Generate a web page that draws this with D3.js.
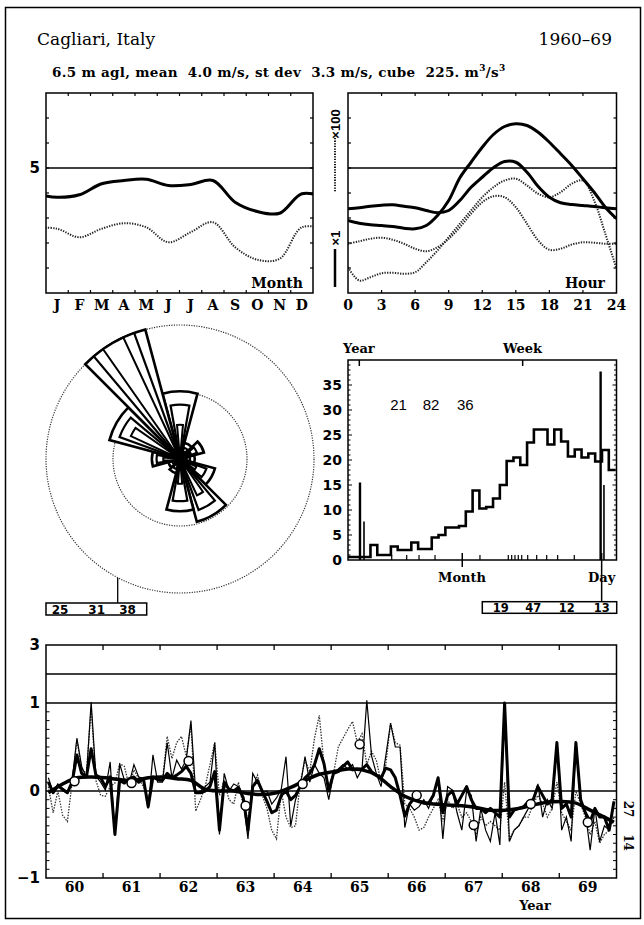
<!DOCTYPE html>
<html><head><meta charset="utf-8">
<script src="https://cdn.jsdelivr.net/npm/d3@7"></script>
<style>body{margin:0;background:#fff}svg{display:block}</style>
</head><body>
<svg id="c" width="644" height="925"></svg>
<script>
// ---------------- DATA ----------------
const titleText = "Cagliari, Italy";
const periodText = "1960–69";
const monthLabels = ["J","F","M","A","M","J","J","A","S","O","N","D"];
const monthMean = [3.83,3.93,4.37,4.50,4.55,4.30,4.34,4.50,3.63,3.26,3.19,3.97];
const monthStd  = [2.57,2.23,2.57,2.79,2.63,2.03,2.43,2.83,1.83,1.33,1.37,2.63];

const hourTicks = [0,3,6,9,12,15,18,21,24];
const hours = d3.range(0,25);
const hourSolidA = [2.90,2.79,2.73,2.70,2.66,2.59,2.57,2.70,3.10,3.70,4.61,5.23,5.83,6.34,6.66,6.77,6.70,6.43,6.03,5.57,5.10,4.57,4.03,3.43,2.97];
const hourSolidB = [3.37,3.41,3.47,3.51,3.53,3.47,3.41,3.30,3.21,3.30,3.70,4.23,4.63,5.01,5.26,5.23,4.83,4.26,3.83,3.61,3.54,3.50,3.46,3.41,3.37];
const hourDotA   = [1.97,2.07,2.17,2.21,2.13,1.97,1.77,1.67,1.83,2.17,2.63,3.17,3.63,3.87,3.83,3.43,2.77,2.10,1.73,1.77,1.94,2.03,2.01,1.97,1.97];
const hourDotB   = [1.03,0.50,0.63,0.79,0.81,0.77,0.83,1.23,1.70,2.23,2.77,3.30,3.83,4.23,4.50,4.57,4.30,3.97,3.83,4.03,4.37,4.50,3.70,2.37,0.97];

const roseDirs   = [0,30,60,90,120,150,180,210,240,270,300,330];
const roseWide   = [10.1,2.5,3.7,2.2,5.4,9.7,7.8,2.2,1.8,4.2,10.9,20];
const roseMid    = [8.1,1.8,2.7,1.5,4.2,8.1,6.3,1.6,1.2,3.5,9.6,20];
const roseNarrow = [5.1,1.2,1.8,1.0,2.7,6.0,3.7,1.0,0.8,2.5,8.1,20];
const roseRings  = [10,20];
const roseBox    = ["25","31","38"];

const specBins = [0.6,0.6,0.6,3.0,1.0,1.0,2.7,2.0,2.0,3.5,2.2,2.2,4.5,5.0,6.5,6.5,6.8,9.7,13.9,10.3,10.6,12.3,15.0,19.8,20.5,19.0,23.5,26.1,26.1,23.1,26.1,23.7,20.7,22.1,20.5,21.3,19.7,22.0,18.0];
const specSpikePos = [1.46,2.05,36.8,37.29];
const specSpikeVal = [15.5,7.7,37.7,15.0];
const specTicks = [6.12,8.32,10.13,12.48,19.08,23.24,23.74,24.22,24.71,25.21,26.09,27.41,28.88,30.49,32.93];
const specYTicks = [0,5,10,15,20,25,30,35];
const specNumbers = ["21","82","36"];
const specBox = ["19","47","12","13"];

const years = ["60","61","62","63","64","65","66","67","68","69"];
const seriesThin = [
 0.15,-0.02,0.08,0.00,-0.02,0.12,0.60,0.28,0.15,1.03,0.17,0.10,
 0.01,0.33,-0.50,0.31,0.12,0.09,0.30,0.16,0.14,-0.20,0.41,0.10,
 0.10,0.55,0.15,0.35,0.25,0.35,0.80,-0.02,0.00,0.05,0.10,0.55,
 -0.50,0.20,0.00,0.08,0.05,-0.10,-0.55,0.20,0.10,-0.02,0.00,-0.15,
 -0.08,0.02,0.39,-0.40,-0.10,0.05,0.39,0.10,0.30,0.20,0.15,-0.10,
 0.20,0.25,0.30,0.25,0.30,0.15,0.25,1.09,0.40,0.20,0.05,0.40,
 0.77,0.50,0.50,-0.42,-0.15,-0.22,-0.18,-0.10,-0.20,-0.05,0.15,-0.55,
 0.05,0.01,-0.25,-0.45,0.00,-0.05,-0.58,-0.20,-0.45,-0.58,-0.25,-0.62,
 1.02,-0.58,-0.45,-0.40,-0.30,-0.20,-0.10,0.08,-0.30,-0.10,-0.20,0.55,
 -0.45,-0.30,-0.58,0.55,-0.15,-0.25,-0.68,-0.20,-0.58,-0.40,-0.45,-0.12];
const seriesDotted = [
 0.05,-0.25,0.00,-0.28,-0.35,0.10,0.58,0.25,0.20,0.95,0.12,-0.05,
 -0.06,0.05,0.09,0.31,0.28,0.05,0.24,0.14,0.05,-0.10,0.16,0.11,
 0.12,0.62,0.37,0.55,0.62,0.40,0.75,-0.23,-0.10,0.05,0.30,0.55,
 -0.05,0.12,-0.10,-0.15,0.10,-0.17,-0.33,0.05,0.18,-0.05,-0.20,-0.45,
 -0.55,0.00,-0.30,-0.42,-0.40,0.10,0.35,0.22,0.60,0.86,0.30,0.05,
 0.20,0.50,0.60,0.70,0.79,0.55,0.65,0.30,0.45,0.35,0.10,0.30,
 0.77,0.55,0.52,-0.15,-0.20,-0.30,-0.45,-0.42,-0.30,-0.20,-0.10,-0.35,
 -0.10,-0.20,-0.15,-0.30,-0.25,-0.35,-0.50,-0.30,-0.40,-0.35,-0.40,-0.45,
 0.10,-0.55,-0.45,-0.40,-0.30,-0.30,-0.15,-0.05,-0.15,-0.30,-0.20,0.10,
 -0.25,-0.35,-0.45,0.00,-0.15,-0.30,-0.50,-0.35,-0.60,-0.50,-0.45,-0.30];
const seriesThick = [
 0.10,-0.02,0.06,0.02,-0.02,0.10,0.41,0.20,0.16,0.48,0.18,0.15,
 0.05,0.16,-0.50,0.12,0.09,0.14,0.16,0.10,0.14,-0.18,0.16,0.13,
 0.12,0.20,0.15,0.18,0.22,0.28,0.20,-0.02,-0.02,0.00,0.05,0.22,
 -0.45,0.10,0.02,0.00,0.04,-0.08,-0.45,0.05,0.12,0.00,-0.12,-0.25,
 -0.22,-0.05,0.00,-0.10,-0.05,0.05,0.15,0.20,0.30,0.48,0.31,0.00,
 0.20,0.22,0.28,0.33,0.24,0.25,0.25,0.30,0.22,0.18,0.15,0.26,
 0.24,0.15,-0.05,-0.29,-0.15,-0.08,-0.12,-0.14,-0.14,-0.05,0.15,-0.25,
 -0.05,0.00,-0.15,-0.05,0.05,-0.10,-0.20,-0.20,-0.25,-0.20,-0.25,-0.30,
 1.00,-0.30,-0.22,-0.20,-0.18,-0.12,-0.10,0.05,-0.05,-0.15,-0.10,0.55,
 -0.20,-0.15,-0.30,0.55,-0.10,-0.25,-0.35,-0.20,-0.30,-0.30,-0.45,-0.12];
const trendMonths = [0,3,6,9,12,15,18,21,24,27,30,33,36,39,42,45,48,51,54,57,60,63,66,69,72,75,78,81,84,87,90,93,96,99,102,105,108,111,114,117,119];
const trendValues = [-0.02,0.08,0.15,0.16,0.15,0.13,0.12,0.15,0.16,0.14,0.12,0.02,0.00,0.00,-0.03,-0.04,-0.02,0.04,0.12,0.19,0.22,0.25,0.24,0.18,0.05,-0.06,-0.12,-0.15,-0.16,-0.17,-0.19,-0.22,-0.22,-0.20,-0.16,-0.13,-0.12,-0.14,-0.22,-0.30,-0.36];
const annualValues = [0.11,0.09,0.34,-0.17,0.08,0.53,-0.05,-0.39,-0.15,-0.36];
const bottomYLabels = [{v:3,t:"3"},{v:1,t:"1"},{v:0,t:"0"},{v:-1,t:"\u22121"}];
const sideLabels = ["27","14"];

// ---------------- DRAW ----------------
const svg = d3.select("#c");
const SERIF = "DejaVu Serif", SANS = "Liberation Sans";

function rect(x0,y0,x1,y1,sw){
  svg.append("rect").attr("x",x0).attr("y",y0).attr("width",x1-x0).attr("height",y1-y0)
    .attr("fill","none").attr("stroke","#000").attr("stroke-width",sw||1.5);
}
function line(g,x1,y1,x2,y2,sw,dash){
  const l=g.append("line").attr("x1",x1).attr("y1",y1).attr("x2",x2).attr("y2",y2)
    .attr("stroke","#000").attr("stroke-width",sw||1);
  if(dash) l.attr("stroke-dasharray",dash);
  return l;
}
function txt(x,y,t,o){
  o=o||{};
  return svg.append("text").attr("x",x).attr("y",y).text(t)
    .attr("font-family",o.ff||SERIF).attr("font-weight",o.fw||"bold")
    .attr("font-size",o.fs||14).attr("text-anchor",o.ta||"start").attr("fill","#000");
}
function clip(id,x0,y0,x1,y1){
  svg.append("clipPath").attr("id",id).append("rect").attr("x",x0).attr("y",y0).attr("width",x1-x0).attr("height",y1-y0);
}

// outer frame
rect(5.5,7.5,640.5,918.5,1.5);

// header
txt(37,45,titleText,{fw:"normal",fs:17});
txt(612,45,periodText,{fw:"normal",fs:17,ta:"end"});
const sub = svg.append("text").attr("x",52).attr("y",77).attr("font-family",SERIF)
  .attr("font-weight","bold").attr("font-size",13.5).attr("letter-spacing",0.3).style("white-space","pre");
sub.append("tspan").text("6.5 m agl, mean  4.0 m/s, st dev  3.3 m/s, cube  225. m");
sub.append("tspan").attr("dy",-6).attr("font-size",9).text("3");
sub.append("tspan").attr("dy",6).attr("font-size",13.5).text("/s");
sub.append("tspan").attr("dy",-6).attr("font-size",9).text("3");

// ---- top panels ----
const yV = d3.scaleLinear().domain([0,8]).range([293,93]);
const xM = d3.scaleLinear().domain([0,12]).range([46,313]);
const xH = d3.scaleLinear().domain([0,24]).range([348,616.5]);
const curve = d3.line().curve(d3.curveCatmullRom.alpha(0.5));

clip("cpM",46,93,313,293);
clip("cpH",348,93,616.5,293);
const gM = svg.append("g");
const gH = svg.append("g");

// month panel
line(gM,46,yV(5),313,yV(5),1.5);
d3.range(1,8).forEach(v=>{ line(gM,46,yV(v),49,yV(v),1.2); line(gM,310,yV(v),313,yV(v),1.2); });
d3.range(1,12).forEach(m=>{ line(gM,xM(m),93,xM(m),96,1.2); line(gM,xM(m),290,xM(m),293,1.2); });
function cyc(arr){ return d3.range(-1,13).map(i=>[xM(i+0.5), yV(arr[(i+12)%12])]); }
gM.append("path").attr("d",curve(cyc(monthStd))).attr("clip-path","url(#cpM)")
  .attr("fill","none").attr("stroke","#222").attr("stroke-width",2).attr("stroke-dasharray","1.3,1.3");
gM.append("path").attr("d",curve(cyc(monthMean))).attr("clip-path","url(#cpM)")
  .attr("fill","none").attr("stroke","#000").attr("stroke-width",3);
monthLabels.forEach((m,i)=>txt(xM(i+0.5),310,m,{fs:14,ta:"middle"}));
txt(303,288,"Month",{fs:14,ta:"end"});
txt(40,173,"5",{ff:"DejaVu Sans",fs:15,ta:"end"});
rect(46,93,313,293,1.5);

// hour panel
line(gH,348,yV(5),616.5,yV(5),1.5);
d3.range(1,8).forEach(v=>{ line(gH,348,yV(v),351,yV(v),1.2); line(gH,613.5,yV(v),616.5,yV(v),1.2); });
hourTicks.slice(1,-1).forEach(h=>{ line(gH,xH(h),93,xH(h),96,1.2); line(gH,xH(h),290,xH(h),293,1.2); });
function hp(arr){ return hours.map((h,i)=>[xH(h),yV(arr[i])]); }
[hourDotA,hourDotB].forEach(a=>gH.append("path").attr("d",curve(hp(a))).attr("clip-path","url(#cpH)")
  .attr("fill","none").attr("stroke","#222").attr("stroke-width",2).attr("stroke-dasharray","1.3,1.3"));
[hourSolidA,hourSolidB].forEach(a=>gH.append("path").attr("d",curve(hp(a))).attr("clip-path","url(#cpH)")
  .attr("fill","none").attr("stroke","#000").attr("stroke-width",3));
hourTicks.forEach(h=>txt(xH(h),310,String(h),{fs:14,ta:"middle"}));
txt(605,288,"Hour",{fs:14,ta:"end"});
rect(348,93,616.5,293,1.5);
// scale legend
svg.append("text").attr("transform","translate(339.5,124) rotate(-90)").attr("text-anchor","middle")
  .attr("font-family",SANS).attr("font-weight","bold").attr("font-size",13).text("×100");
line(svg,335,138,335,192,1.8,"1.3,1.3");
svg.append("text").attr("transform","translate(339.5,238) rotate(-90)").attr("text-anchor","middle")
  .attr("font-family",SANS).attr("font-weight","bold").attr("font-size",13).text("×1");
line(svg,335,249,335,287,2.5);

// ---- wind rose ----
const cx=180, cy=459;
const rS = d3.scaleLinear().domain([0,20]).range([0,134]).clamp(true);
const gR = svg.append("g").attr("transform",`translate(${cx},${cy})`);
roseRings.forEach(r=>gR.append("circle").attr("r",rS(r)).attr("fill","none")
  .attr("stroke","#333").attr("stroke-width",1.2).attr("stroke-dasharray","1.2,1.3"));
const arc = d3.arc().innerRadius(0);
const rad = d=>d*Math.PI/180;
[[roseWide,30,2.6],[roseMid,20,2.2],[roseNarrow,10,2]].forEach(([vals,w,sw])=>{
  roseDirs.forEach((d,i)=>{
    gR.append("path").attr("d",arc({startAngle:rad(d-w/2),endAngle:rad(d+w/2),outerRadius:rS(vals[i])}))
      .attr("fill","#fff").attr("stroke","#000").attr("stroke-width",sw).attr("stroke-linejoin","miter");
  });
});
// connector and box
const bx = 117.7, R = rS(20);
line(svg,bx,cy+Math.sqrt(R*R-(bx-cx)*(bx-cx)),bx,603,1.3);
rect(46,603,146.7,615,1.5);
[60,96.7,127.5].forEach((x,i)=>txt(x,613.8,roseBox[i],{ff:"DejaVu Sans",fs:12,ta:"middle"}));

// ---- spectrum histogram ----
const xS = d3.scaleLinear().domain([-0.3,39]).range([348,615.6]);
const yS = d3.scaleLinear().domain([0,40]).range([560,360]);
clip("cpS",348,360,616.5,560);
const gS = svg.append("g");
d3.range(1,40).forEach(v=>{ const L=v%5===0?4:2.5; line(gS,348,yS(v),348+L,yS(v),1); line(gS,616.5-L,yS(v),616.5,yS(v),1); });
specTicks.forEach(u=>line(gS,xS(u),560,xS(u),555,1.2));
line(gS,xS(16.48),553,xS(16.48),567,1.5);          // Month
line(gS,xS(36.95),553,xS(36.95),601.7,1.5);        // Day
line(gS,xS(1.36),360,xS(1.36),366,1.5);            // Year
line(gS,xS(25.35),360,xS(25.35),366,1.5);          // Week
const stepPts = specBins.map((v,i)=>[xS(i===0?-0.3:i),yS(v)]);
stepPts.push([xS(39),yS(specBins[specBins.length-1])]);
gS.append("path").attr("d",d3.line().curve(d3.curveStepAfter)(stepPts)).attr("clip-path","url(#cpS)")
  .attr("fill","none").attr("stroke","#000").attr("stroke-width",2.6);
specSpikePos.forEach((u,i)=>line(gS,xS(u),yS(0),xS(u),yS(specSpikeVal[i]),i%2===0?2.4:1.6));
rect(348,360,616.5,560,1.5);
specYTicks.forEach(v=>txt(342,yS(v)+5,String(v),{ff:"DejaVu Sans",fs:14,ta:"end"}));
txt(343,353,"Year",{fs:13});
txt(503,353,"Week",{fs:13});
txt(438,582,"Month",{fs:13});
txt(588,582,"Day",{fs:13});
[398.5,431,465.3].forEach((x,i)=>txt(x,410,specNumbers[i],{ff:SANS,fw:"normal",fs:15,ta:"middle"}));
rect(482.3,601.7,616.7,613.3,1.5);
[500.8,533.3,566.7,601.7].forEach((x,i)=>txt(x,612.2,specBox[i],{ff:"DejaVu Sans",fs:11.5,ta:"middle"}));

// ---- bottom time series ----
const xT = d3.scaleLinear().domain([1960,1970]).range([46,616.3]);
const yT = d3.scaleLinear().domain([-1,0,1,2,3]).range([878,791,703,674,645]);
clip("cpT",46,645,616.5,878);
const gT = svg.append("g");
[0,1,2].forEach(v=>line(gT,46,yT(v),616.5,yT(v),1.5));
d3.range(-9,10).filter(k=>k!==0).forEach(k=>{ const v=k/10; line(gT,46,yT(v),49.5,yT(v),1); line(gT,613,yT(v),616.5,yT(v),1); });
d3.range(1961,1970).forEach(y=>{ line(gT,xT(y),878,xT(y),873,1.3); line(gT,xT(y),645,xT(y),650,1.3); });
const mx = m=>xT(1960+(m+0.5)/12);
const lin = d3.line();
gT.append("path").attr("d",lin(seriesDotted.map((v,m)=>[mx(m),yT(v)]))).attr("clip-path","url(#cpT)")
  .attr("fill","none").attr("stroke","#333").attr("stroke-width",1.3).attr("stroke-dasharray","1.5,1.3");
gT.append("path").attr("d",lin(seriesThin.map((v,m)=>[mx(m),yT(v)]))).attr("clip-path","url(#cpT)")
  .attr("fill","none").attr("stroke","#000").attr("stroke-width",1.2);
gT.append("path").attr("d",lin(seriesThick.map((v,m)=>[mx(m),yT(v)]))).attr("clip-path","url(#cpT)")
  .attr("fill","none").attr("stroke","#000").attr("stroke-width",3).attr("stroke-linejoin","round");
gT.append("path").attr("d",curve(trendMonths.map((m,i)=>[mx(m),yT(trendValues[i])]))).attr("clip-path","url(#cpT)")
  .attr("fill","none").attr("stroke","#000").attr("stroke-width",3.5);
annualValues.forEach((v,i)=>gT.append("circle").attr("cx",xT(1960.5+i)).attr("cy",yT(v)).attr("r",4.5)
  .attr("fill","#fff").attr("stroke","#000").attr("stroke-width",1.5));
rect(46,645,616.5,878,1.5);
years.forEach((y,i)=>txt(xT(1960.5+i),892,y,{fs:14,ta:"middle"}));
txt(535,909.5,"Year",{fs:13,ta:"middle"});
bottomYLabels.forEach(d=>txt(40,yT(d.v)+5,d.t,{ff:"DejaVu Sans",fs:15,ta:"end"}));
[809,842.5].forEach((y,i)=>svg.append("text").attr("transform",`translate(624,${y}) rotate(90)`)
  .attr("text-anchor","middle").attr("font-family",SERIF).attr("font-weight","bold").attr("font-size",12).text(sideLabels[i]));
</script>
</body></html>
